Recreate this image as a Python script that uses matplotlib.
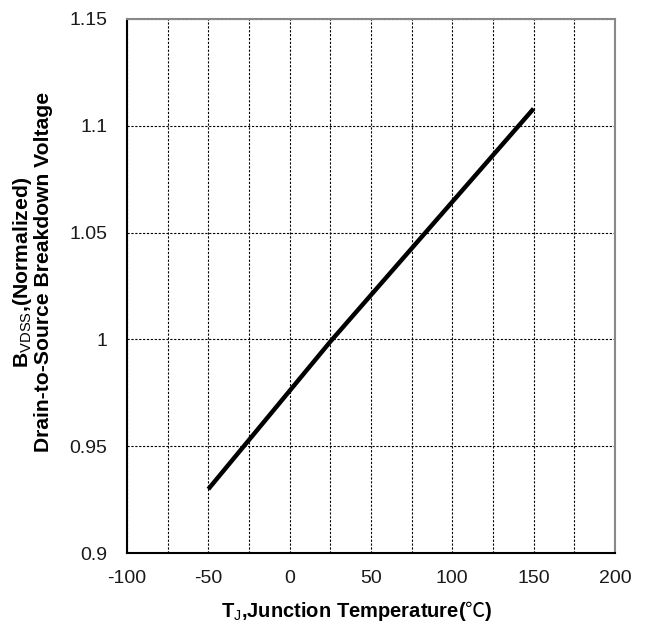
import matplotlib
matplotlib.use("Agg")
import matplotlib.pyplot as plt
from matplotlib.ticker import MultipleLocator

temp_c = [-50, 25, 150]
bvdss_norm = [0.93, 0.999, 1.108]

xticks = [-100, -50, 0, 50, 100, 150, 200]
yticks = [0.9, 0.95, 1.0, 1.05, 1.1, 1.15]
yticklabels = ["0.9", "0.95", "1", "1.05", "1.1", "1.15"]

plt.rcParams['font.family'] = ['Liberation Sans', 'DejaVu Sans', 'Noto Sans CJK SC']
plt.rcParams['mathtext.fontset'] = 'custom'
plt.rcParams['mathtext.rm'] = 'Liberation Sans'
plt.rcParams['mathtext.bf'] = 'Liberation Sans:bold'
plt.rcParams['mathtext.sf'] = 'Noto Sans CJK SC'

fig = plt.figure(figsize=(6.48, 6.28), dpi=100)
ax = fig.add_axes([0.196, 0.119, 0.753, 0.851])

ax.plot(temp_c, bvdss_norm, color='black', lw=3.2, solid_capstyle='butt')

ax.set_xlim(-100, 200)
ax.set_ylim(0.9, 1.15)
ax.set_xticks(xticks)
ax.set_xticklabels([str(t) for t in xticks])
ax.set_yticks(yticks)
ax.set_yticklabels(yticklabels)
ax.xaxis.set_minor_locator(MultipleLocator(25))
ax.grid(True, which='both', axis='x', color='black', ls=(0, (2, 1.5)), lw=0.8)
ax.grid(True, which='major', axis='y', color='black', ls=(0, (2, 1.5)), lw=0.8)
ax.tick_params(which='both', length=0, labelsize=14, colors='#1a1a1a')
ax.tick_params(axis='x', pad=12)
ax.tick_params(axis='y', pad=14)

for s in ['left', 'bottom']:
    ax.spines[s].set_color('black')
    ax.spines[s].set_linewidth(1.5)
for s in ['top', 'right']:
    ax.spines[s].set_color('#888888')
    ax.spines[s].set_linewidth(1.5)

ax.set_xlabel('T$_{\\mathrm{J}}$,Junction Temperature($\\mathsf{\u2103}$)', fontsize=14.5, fontweight='bold')
ax.xaxis.set_label_coords(0.471, -0.085)
ax.set_ylabel('B$_{\\mathrm{VDSS}}$,(Normalized)\nDrain-to-Source Breakdown Voltage', fontsize=15.2,
              fontweight='bold', linespacing=1.0)
ax.yaxis.set_label_coords(-0.152, 0.526)

fig.savefig('out.png', dpi=100)
